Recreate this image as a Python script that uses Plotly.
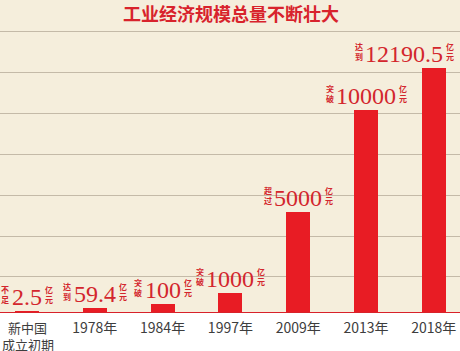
import plotly.graph_objects as go

# ---- data ----
categories = ["新中国<br>成立初期", "1978年", "1984年", "1997年", "2009年", "2013年", "2018年"]
bar_values = [100, 250, 450, 1000, 5000, 10100, 12190.5]   # bar lengths as drawn (亿元 scale)
label_numbers = ["2.5", "59.4", "100", "1000", "5000", "10000", "12190.5"]
label_prefix = ["不足", "达到", "突破", "突破", "超过", "突破", "达到"]
label_suffix = "亿元"
title_text = "工业经济规模总量不断壮大"

# ---- layout constants ----
W, H = 460, 351
plot_h = 313
x_range = [-0.398, 6.386]
px_per_cat = W / (x_range[1] - x_range[0])
y_max = 15560
grid_vals = [1790 + 2035 * i for i in range(7)]

red = "#e81c24"
text_red = "#d3262d"
cream = "#f5eedc"
tick_color = "#3d3d3d"

fig = go.Figure()
fig.add_trace(go.Bar(
    x=list(range(len(categories))), y=bar_values,
    width=0.354, marker=dict(color=red, line=dict(width=0)),
    hoverinfo="skip",
))

num_size = 24
def num_width(s):
    return sum(6 if c == "." else 12 for c in s) * num_size / 24

annotations = []
for i, (v, n, p) in enumerate(zip(bar_values, label_numbers, label_prefix)):
    w = num_width(n)
    cx = (i - x_range[0]) * px_per_cat
    right = cx + w / 2 + 2 + 9
    shift = min(0, 454 - right)
    annotations.append(dict(
        x=i, y=v, xref="x", yref="y", text=n, showarrow=False,
        xanchor="center", yanchor="bottom", xshift=shift, yshift=-1,
        font=dict(family="Liberation Serif", size=num_size, color=text_red),
    ))
    annotations.append(dict(
        x=i, y=v, xref="x", yref="y", text="<b>" + p[0] + "<br>" + p[1] + "</b>",
        showarrow=False,
        xanchor="right", yanchor="bottom", xshift=shift - w / 2 - 0.5, yshift=4,
        font=dict(family="Noto Sans CJK SC", size=8, color=text_red),
    ))
    annotations.append(dict(
        x=i, y=v, xref="x", yref="y",
        text="<b>" + label_suffix[0] + "<br>" + label_suffix[1] + "</b>",
        showarrow=False,
        xanchor="left", yanchor="bottom", xshift=shift + w / 2 + 1, yshift=4,
        font=dict(family="Noto Sans CJK SC", size=8, color=text_red),
    ))

# first category label: two separately placed lines
tick_text = [""] + categories[1:]
for j, line in enumerate(categories[0].split("<br>")):
    annotations.append(dict(
        x=0, y=0, xref="x", yref="paper", text=line, showarrow=False,
        xanchor="center", yanchor="middle", xshift=1, yshift=-14.5 - 16.5 * j,
        font=dict(family="Noto Sans CJK SC", size=13, color=tick_color),
    ))

annotations.append(dict(
    x=0.503, y=(plot_h - 12.7) / plot_h, xref="paper", yref="paper",
    text="<b>" + title_text + "</b>", showarrow=False,
    xanchor="center", yanchor="middle",
    font=dict(family="Noto Sans CJK SC", size=18, color="#d8232c"),
))

fig.update_layout(
    width=W, height=H,
    margin=dict(l=0, r=0, t=0, b=H - plot_h, autoexpand=False),
    paper_bgcolor="#ffffff", plot_bgcolor=cream,
    showlegend=False, bargap=0,
    xaxis=dict(
        range=x_range, tickmode="array", tickvals=list(range(len(categories))),
        ticktext=tick_text, showgrid=False, zeroline=False, showline=False,
        ticks="", ticklabelstandoff=5, ticklabeloverflow="allow", automargin=False,
        tickfont=dict(family="Noto Sans CJK SC", size=14, color=tick_color),
        fixedrange=True,
    ),
    yaxis=dict(
        range=[0, y_max], tickmode="array", tickvals=grid_vals,
        showticklabels=False, showgrid=True, gridcolor="#c4baa8", gridwidth=1,
        zeroline=False, showline=False, fixedrange=True, automargin=False,
    ),
    annotations=annotations,
    shapes=[dict(type="line", xref="paper", yref="y", x0=0, x1=1, y0=0, y1=0,
                 line=dict(color="#d8222a", width=2))],
)

fig.write_html("out.html")
